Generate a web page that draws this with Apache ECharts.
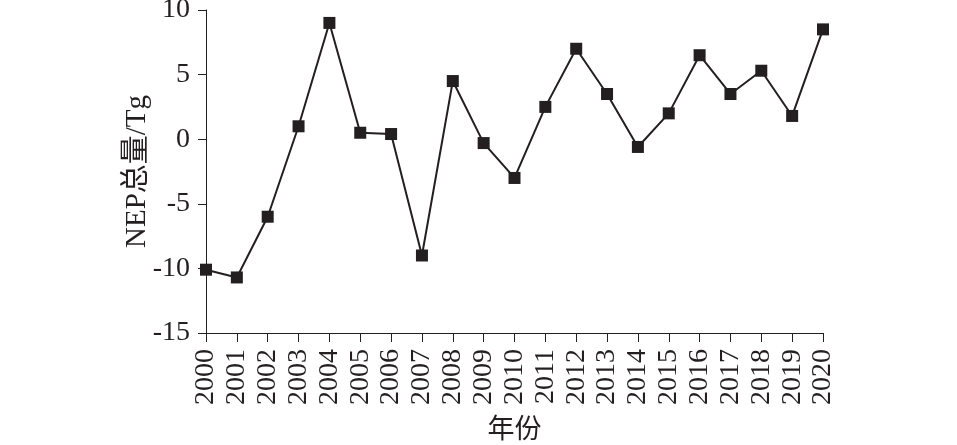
<!DOCTYPE html>
<html><head><meta charset="utf-8">
<script src="https://cdn.jsdelivr.net/npm/echarts@6/dist/echarts.min.js"></script>
<style>html,body{margin:0;padding:0;background:#fff}#c{width:957px;height:445px}</style>
</head><body><div id="c"></div>
<script>
var years = ['2000','2001','2002','2003','2004','2005','2006','2007','2008','2009','2010','2011','2012','2013','2014','2015','2016','2017','2018','2019','2020'];
var nep = [-10.1,-10.7,-6.0,1.0,9.0,0.5,0.4,-9.0,4.5,-0.3,-3.0,2.5,7.0,3.5,-0.6,2.0,6.5,3.5,5.3,1.8,8.5];
var yTicks = [-15,-10,-5,0,5,10];
var ff = 'Liberation Serif, Noto Sans CJK SC, serif';
var col = '#231f20';
var chart = echarts.init(document.getElementById('c'));
chart.setOption({
  animation:false,
  grid:{left:206,right:134,top:10,bottom:112,outerBoundsMode:'none',containLabel:false},
  xAxis:{type:'category',data:years,boundaryGap:false,
    name:'年份',nameLocation:'middle',nameGap:84,nameMoveOverlap:false,
    nameTextStyle:{fontFamily:ff,fontSize:27,color:col},
    axisLine:{onZero:false,lineStyle:{color:col,width:1}},
    axisTick:{alignWithLabel:true,length:9,lineStyle:{color:col}},
    axisLabel:{rotate:90,fontFamily:ff,fontSize:28,color:col,margin:16,interval:0}},
  yAxis:{type:'value',min:yTicks[0],max:yTicks[yTicks.length-1],interval:5,
    name:'NEP总量/Tg',nameLocation:'middle',nameGap:54,nameRotate:90,nameMoveOverlap:false,
    nameTextStyle:{fontFamily:ff,fontSize:29,color:col},
    splitLine:{show:false},
    axisLine:{show:true,lineStyle:{color:col,width:1}},
    axisTick:{show:true,length:8,lineStyle:{color:col}},
    axisLabel:{fontFamily:ff,fontSize:28,color:col,margin:16}},
  series:[{type:'line',data:nep,symbol:'rect',symbolSize:12,
    lineStyle:{color:col,width:2},itemStyle:{color:col}}]
});
</script></body></html>
